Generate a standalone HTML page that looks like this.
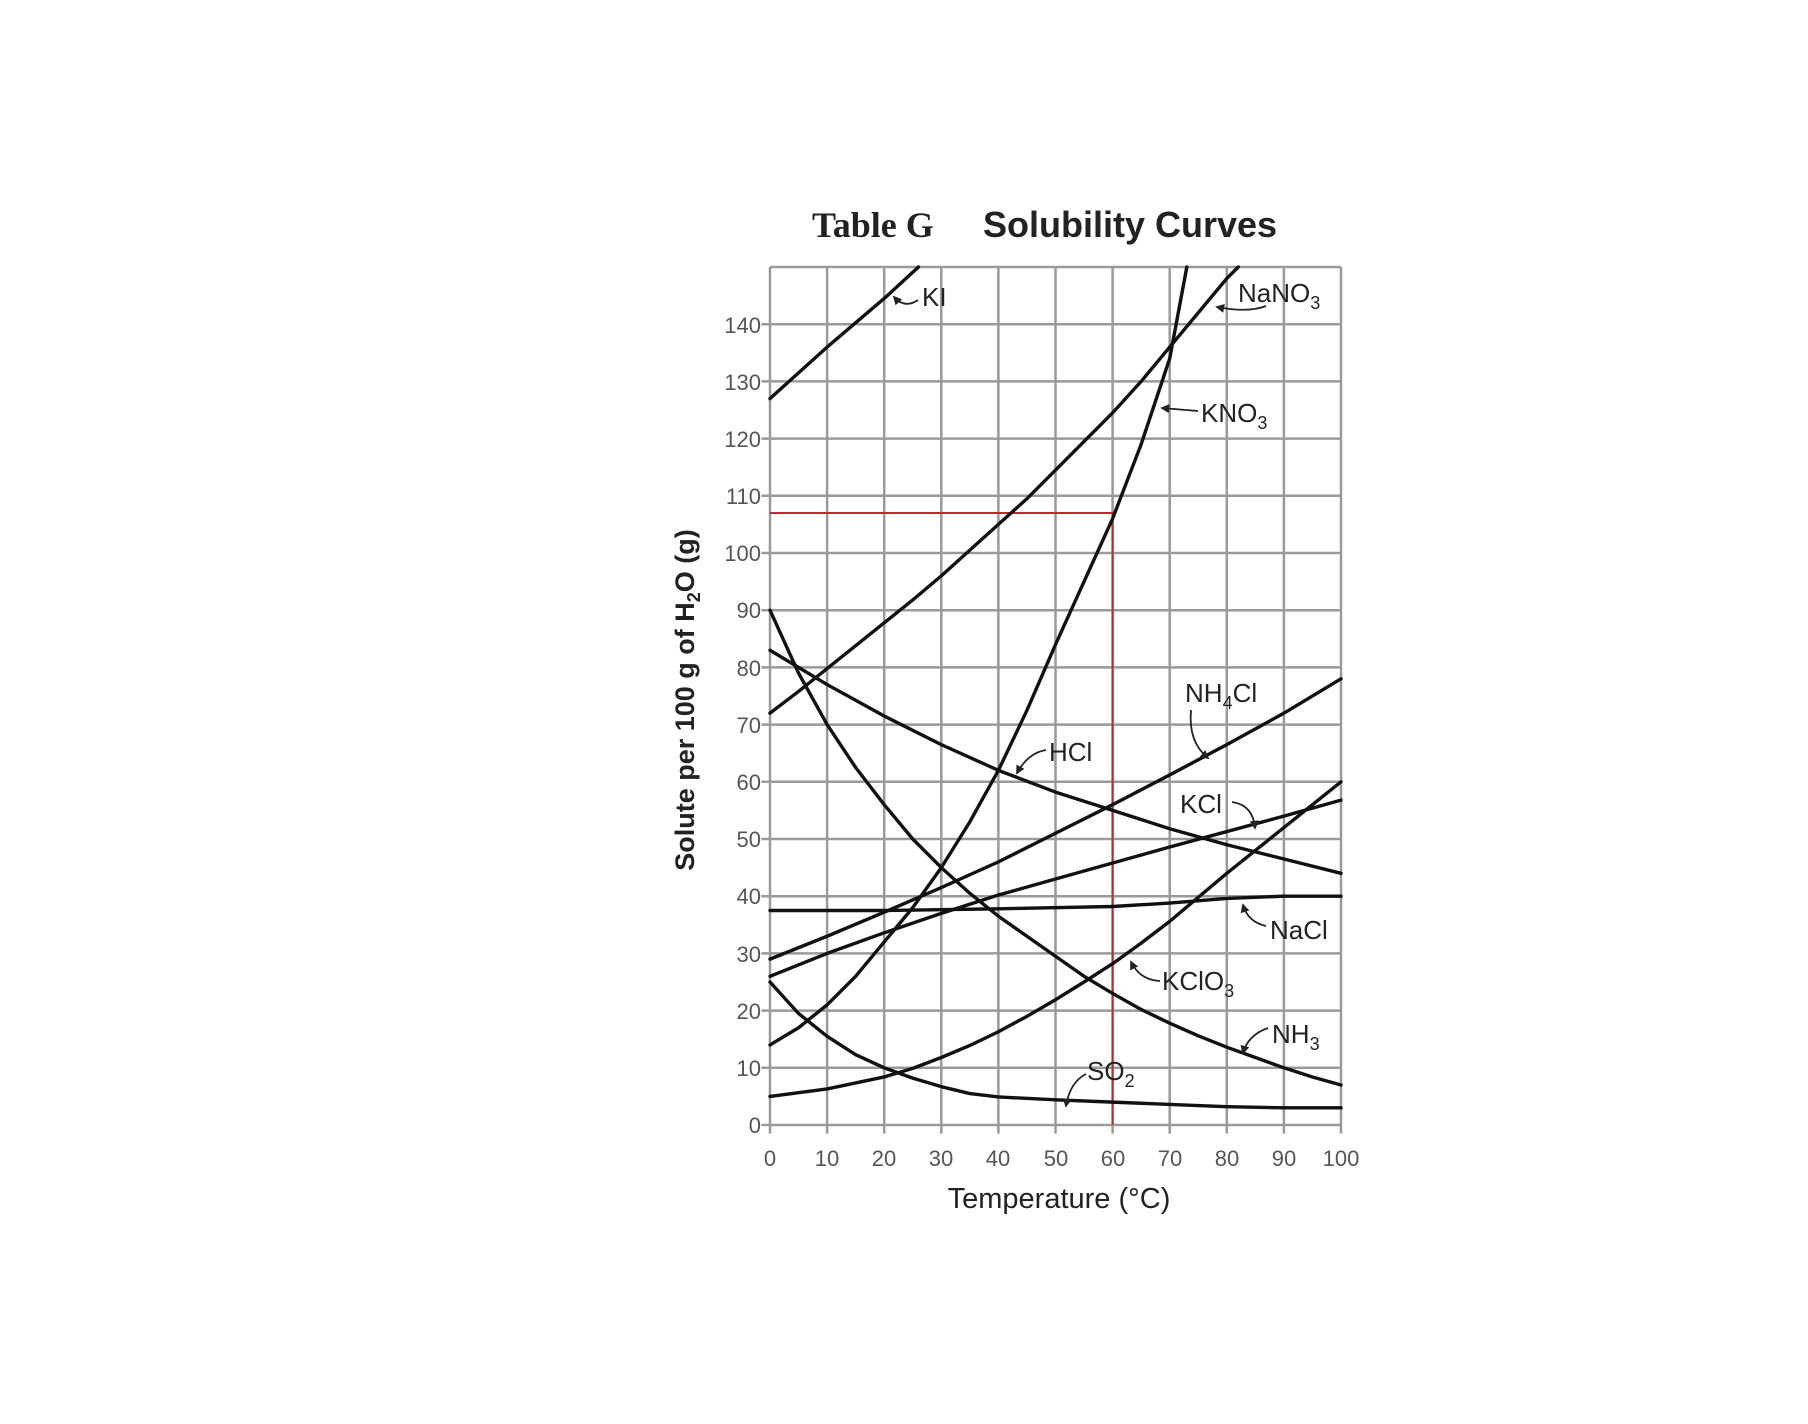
<!DOCTYPE html>
<html><head><meta charset="utf-8"><style>
html,body{margin:0;padding:0;background:#fff;width:1808px;height:1424px;overflow:hidden}
svg{display:block}
text{font-family:"Liberation Sans",sans-serif}
</style></head><body>
<svg width="1808" height="1424" viewBox="0 0 1808 1424" xmlns="http://www.w3.org/2000/svg">
<defs>
<marker id="ah" viewBox="0 0 10 10" refX="8" refY="5" markerWidth="5" markerHeight="5" orient="auto"><path d="M0,0 L10,5 L0,10 z" fill="#222"/></marker>
</defs>
<text x="812" y="237" font-size="36" font-weight="bold" fill="#222" style="font-family:'Liberation Serif',serif">Table G</text>
<text x="983" y="237" font-size="36" font-weight="bold" fill="#222">Solubility Curves</text>

<g transform="translate(770,1125) scale(5.71,-5.72)" fill="none">
<g stroke="#9a9a9a" stroke-width="2.5">
<path vector-effect="non-scaling-stroke" d="M0,-1.5V150 M10,-1.5V150 M20,-1.5V150 M30,-1.5V150 M40,-1.5V150 M50,-1.5V150 M60,-1.5V150 M70,-1.5V150 M80,-1.5V150 M90,-1.5V150 M100,-1.5V150"/>
<path vector-effect="non-scaling-stroke" d="M-1.5,0H100 M-1.5,10H100 M-1.5,20H100 M-1.5,30H100 M-1.5,40H100 M-1.5,50H100 M-1.5,60H100 M-1.5,70H100 M-1.5,80H100 M-1.5,90H100 M-1.5,100H100 M-1.5,110H100 M-1.5,120H100 M-1.5,130H100 M-1.5,140H100 M0,150H100"/>
</g>
<path vector-effect="non-scaling-stroke" stroke="#b03030" stroke-width="2" d="M0,107H60V0"/>
<g stroke="#111" stroke-width="3.4" stroke-linejoin="round" stroke-linecap="round">
<polyline vector-effect="non-scaling-stroke" points="0,127 10,136 20,144.5 26,150"/>
<polyline vector-effect="non-scaling-stroke" points="0,72 5,75.8 10,79.8 15,83.8 20,87.8 25,91.8 30,96 35,100.5 40,105 45,109.5 50,114.5 55,119.5 60,124.5 65,130 70,136 75,142 80,148 82,150"/>
<polyline vector-effect="non-scaling-stroke" points="0,14 5,17 10,21 15,26 20,32 25,38 30,45 35,53 40,62 45,72.5 50,84 55,95 60,106 65,119 70,134 73,150"/>
<polyline vector-effect="non-scaling-stroke" points="0,83 10,77 20,71.5 30,66.5 40,62 50,58.2 60,55 70,51.8 80,49 90,46.5 100,44"/>
<polyline vector-effect="non-scaling-stroke" points="0,90 5,79 10,70 15,62.5 20,56 25,50 30,45 35,40.5 40,36.5 45,33 50,29.5 55,26 60,23 65,20.2 70,17.8 75,15.6 80,13.6 85,11.8 90,10 95,8.4 100,7"/>
<polyline vector-effect="non-scaling-stroke" points="0,29 10,33 20,37.2 30,41.5 40,46 50,51 60,56 70,61.2 80,66.5 90,72 100,78"/>
<polyline vector-effect="non-scaling-stroke" points="0,26 10,30 20,33.6 30,37 40,40.2 50,43 60,45.8 70,48.6 80,51.3 90,54 100,56.8"/>
<polyline vector-effect="non-scaling-stroke" points="0,37.5 20,37.5 40,37.8 60,38.2 70,38.8 80,39.6 90,40 100,40"/>
<polyline vector-effect="non-scaling-stroke" points="0,5 10,6.3 20,8.4 25,9.9 30,11.8 35,13.9 40,16.3 45,19 50,21.9 55,25 60,28.2 65,31.8 70,35.6 75,39.8 80,44 90,52 100,60"/>
<polyline vector-effect="non-scaling-stroke" points="0,25 5,19.5 10,15.5 15,12.3 20,10 25,8.2 30,6.7 35,5.5 40,4.9 50,4.4 60,4 70,3.6 80,3.2 90,3 100,3"/>
</g>
</g>

<g font-size="22" fill="#555" text-anchor="end">
<text x="761" y="1133">0</text><text x="761" y="1076">10</text><text x="761" y="1019">20</text><text x="761" y="962">30</text><text x="761" y="904">40</text><text x="761" y="847">50</text><text x="761" y="790">60</text><text x="761" y="733">70</text><text x="761" y="676">80</text><text x="761" y="618">90</text><text x="761" y="561">100</text><text x="761" y="504">110</text><text x="761" y="447">120</text><text x="761" y="390">130</text><text x="761" y="333">140</text>
</g>
<g font-size="22" fill="#555" text-anchor="middle">
<text x="770" y="1166">0</text><text x="827" y="1166">10</text><text x="884" y="1166">20</text><text x="941" y="1166">30</text><text x="998" y="1166">40</text><text x="1056" y="1166">50</text><text x="1113" y="1166">60</text><text x="1170" y="1166">70</text><text x="1227" y="1166">80</text><text x="1284" y="1166">90</text><text x="1341" y="1166">100</text>
</g>
<text x="1059" y="1208" font-size="29" fill="#222" text-anchor="middle">Temperature (°C)</text>
<text transform="translate(694,700) rotate(-90)" font-size="27" font-weight="bold" fill="#222" text-anchor="middle">Solute per 100 g of H<tspan font-size="18" dy="6">2</tspan><tspan dy="-6">O (g)</tspan></text>

<g font-size="26" fill="#222">
<text x="922" y="306">KI</text>
<text x="1238" y="302">NaNO<tspan font-size="18" dy="7">3</tspan></text>
<text x="1201" y="422">KNO<tspan font-size="18" dy="7">3</tspan></text>
<text x="1185" y="702">NH<tspan font-size="18" dy="7">4</tspan><tspan dy="-7">Cl</tspan></text>
<text x="1049" y="761">HCl</text>
<text x="1180" y="813">KCl</text>
<text x="1270" y="939">NaCl</text>
<text x="1162" y="990">KClO<tspan font-size="18" dy="7">3</tspan></text>
<text x="1272" y="1043">NH<tspan font-size="18" dy="7">3</tspan></text>
<text x="1087" y="1080">SO<tspan font-size="18" dy="7">2</tspan></text>
</g>
<g fill="none" stroke="#222" stroke-width="1.8" marker-end="url(#ah)">
<path d="M918,300 Q905,309 894,297"/>
<path d="M1266,306 Q1248,313 1217,307"/>
<path d="M1198,411 L1162,408"/>
<path d="M1191,710 Q1188,742 1208,758"/>
<path d="M1046,750 Q1028,753 1017,773"/>
<path d="M1232,802 Q1253,805 1255,828"/>
<path d="M1266,926 Q1248,922 1243,905"/>
<path d="M1160,981 Q1140,980 1131,962"/>
<path d="M1268,1028 Q1248,1035 1243,1053"/>
<path d="M1086,1074 Q1070,1082 1066,1106"/>
</g>
</svg>
</body></html>
